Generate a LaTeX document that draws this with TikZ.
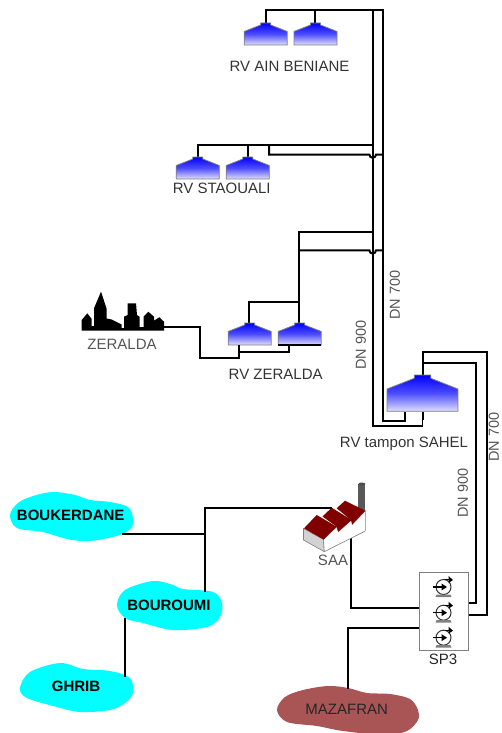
\documentclass[tikz,border=0pt]{standalone}
\usepackage{fontspec}
\setmainfont{Liberation Sans}
\usetikzlibrary{arrows.meta}
\definecolor{txt}{HTML}{333333}
\definecolor{lighttxt}{HTML}{555555}
\definecolor{lake}{HTML}{00FFFF}
\definecolor{mud}{HTML}{AA5555}
\definecolor{roofred}{HTML}{800000}
\tikzset{
  pipe/.style={draw=black,line width=2pt,line join=miter},
  thinpipe/.style={draw=black,line width=1.7pt,line join=miter},
  lbl/.style={inner sep=0pt,text=txt,font=\fontsize{15}{15}\selectfont},
  greylbl/.style={lbl,text=lighttxt},
  dn/.style={lbl,rotate=90,text=lighttxt,font=\fontsize{14.5}{15}\selectfont},
  blob/.style={inner sep=0pt,text=black,font=\bfseries\fontsize{15}{15}\selectfont},
  tankbody/.pic={
    \shade[top color=blue,bottom color=blue!12!white,middle color=blue!70!white,draw=gray,line width=.8pt]
      (-21.5,22) -- (-21.5,8.5) -- (-5,2) -- (-5,0) -- (5,0) -- (5,2) -- (21.5,8.5) -- (21.5,22) -- cycle;
  },
  pump/.pic={
    \draw[line width=1pt,draw=black!80] (0,0) circle (7.5);
    \draw[line width=1.1pt,draw=black] (-11,0) -- (0,0);
    \fill[black] (-2,-3.5) -- (3.5,0) -- (-2,3.5) -- cycle;
    \draw[line width=1.1pt,draw=black] (1,-7.5) -- (6,-7.5);
    \fill[black] (5,-11) -- (9.5,-7) -- (5,-4) -- cycle;
    \fill[gray] (-7,7.5) -- (7,7.5) -- (8,10) -- (-8,10) -- cycle;
  },
}
\begin{document}
\begin{tikzpicture}[x=1pt,y=-1pt]
\useasboundingbox (0,0) rectangle (501,733);
% blobs
\fill[lake] plot[smooth cycle,tension=.55] coordinates {(10,515)(18,503)(33,496)(53,492)(75,495)(90,500)(110,502)(128,507)(133,518)(132,527)(120,535)(90,541)(67,539)(43,532)(17,528)};
\fill[lake] plot[smooth cycle,tension=.55] coordinates {(117,605)(125,590)(153,581)(173,585)(183,589)(213,592)(222,603)(220,617)(207,627)(173,630)(143,623)(125,618)};
\fill[lake] plot[smooth cycle,tension=.55] coordinates {(20,688)(30,672)(60,663)(83,669)(110,671)(130,678)(133,693)(125,703)(110,710)(80,712)(57,707)(27,698)};
\fill[mud] plot[smooth cycle,tension=.55] coordinates {(277,710)(285,697)(303,690)(328,686)(348,688)(367,693)(390,694)(410,699)(418,710)(418,720)(407,731)(385,735)(343,731)(317,726)(287,722)};
\node[blob] (bouk) at (70.7,515) {BOUKERDANE};
\node[blob] (bour) at (169,605) {BOUROUMI};
\node[blob] (ghrib) at (76,686) {GHRIB};
\node[lbl,text=black!85] (maza) at (346.7,709) {MAZAFRAN};
% junctions
\coordinate (a1) at (265.7,23); \coordinate (a2) at (315,23);
\coordinate (s1) at (197.7,157); \coordinate (s2) at (247.7,157);
\coordinate (z1) at (249.3,323); \coordinate (z2) at (299.3,323);
\coordinate (sh) at (422.5,375);
\coordinate (shA) at (405,412); \coordinate (shB) at (422.5,412);
\coordinate (sp1) at (468.5,602.7); \coordinate (sp2) at (468.5,615);
\coordinate (sp3) at (419.3,607.7); \coordinate (sp4) at (419.3,628.3);
\coordinate (cityE) at (164,327.3);
\coordinate (z1b) at (239,345); \coordinate (z2b) at (289,345);
\coordinate (saaT) at (331.7,508.3); \coordinate (saaB) at (351,538);
\coordinate (boukE) at (122,534); \coordinate (bourN) at (205,592);
\coordinate (bourS) at (125,618); \coordinate (ghribN) at (125,677);
\coordinate (mazaN) at (347.7,688.5);
% pipes
\draw[thinpipe] (372.7,10) -- (372.7,426) -| (shB);
\draw[pipe] (a1) |- (383.3,10) -- (383.3,421.3) -| (shA);
\draw[pipe] (a2) -- (315,10);
\draw[pipe] (s1) |- (372.7,145);
\draw[pipe] (s2) -- (247.7,145);
\draw[pipe] (269,145) |- (369.4,154.5) arc[start angle=180,end angle=0,radius=3.3] -- (383.3,154.5);
\draw[pipe] (z2) -- (299.3,232.3) -- (372.7,232.3);
\draw[pipe] (299.3,250.3) -- (369.4,250.3) arc[start angle=180,end angle=0,radius=3.3] -- (383.3,250.3);
\draw[thinpipe] (z1) |- (299.3,302.3);
\draw[pipe] (sh) |- (486.7,352) |- (sp2);
\draw[pipe] (422.5,362.7) -| (476,602.7) -- (sp1);
\draw[pipe] (cityE) -| (200,357.7) -| (z1b);
\draw[pipe] (239,352.3) -| (z2b);
\draw[thinpipe] (boukE) -- (205,534);
\draw[thinpipe] (saaT) -- (205,508.3) -- (bourN);
\draw[pipe] (bourS) -- (ghribN);
\draw[pipe] (saaB) |- (sp3);
\draw[pipe] (sp4) -| (mazaN);
% tanks
\pic at (265.7,23) {tankbody};
\pic at (315.5,23) {tankbody};
\pic at (197.8,157) {tankbody};
\pic at (247.8,157) {tankbody};
\pic at (249.7,323) {tankbody};
\pic at (299.7,323) {tankbody};
\pic[scale=1.65] at (422.5,375) {tankbody};
\draw[pipe] (278.3,345.3) -- (321,345.3);
\draw[pipe] (shA) -- (405,419);
\draw[pipe] (239,345) -- (239,352);
\draw[pipe] (shB) -- (422.5,420);
% city
\fill[black] (81.7,330.7) plot coordinates {(81.7,330.7)(81.7,320)(87.3,313.3)(91.7,319)(91.7,326)(94,326)(94,308.3)(101,291.7)(106.5,308.3)(106.5,318.5)(111.7,319.5)(121.7,324.5)(121.7,328)(124,328)(124,316.7)(127.7,315)(127.7,303.3)(136,303.3)(137,315)(139.5,316.7)(139.5,327)(143.5,327)(143.5,316.7)(148.3,311.7)(154,316.7)(154,320.7)(159.3,317.3)(164,321.7)(164,330.7)} -- cycle;
\node[greylbl] (zer) at (122,344) {ZERALDA};
% factory
\fill[gray!35,draw=gray,line width=.6pt] (303.5,528.5) -- (323.5,539.5) -- (324.3,551.7) -- (303.5,540) -- cycle;
\fill[white,draw=gray,line width=.6pt] (323.5,539.5) -- (336.7,526.7) -- (338.3,531.7) -- (351,520) -- (352.3,524.3) -- (365.3,510.7) -- (365.3,531) -- (324.3,551.7) -- cycle;
\fill[gray!70!black] (358.3,484) rectangle (365.3,510);
\fill[black!70] (361.8,484) ellipse (3.5 and 1.5);
\fill[roofred] (304,528.3) -- (316.7,515) -- (336.7,526.7) -- (323.5,539.5) -- cycle;
\fill[roofred] (322.5,516.5) -- (331.7,507.7) -- (351.7,520) -- (338.3,531.7) -- (336.7,526.7) -- cycle;
\fill[roofred] (336.7,508.3) -- (345,500.7) -- (365.3,510.7) -- (352.3,524.3) -- (351,520) -- cycle;
\node[greylbl] (saa) at (333,560) {SAA};
% SP3
\node[draw=gray,line width=.8pt,minimum width=49.4pt,minimum height=77.6pt,inner sep=0pt] (sp) at (444,611.5) {};
\pic at (443.5,587) {pump};
\pic at (443.5,612.7) {pump};
\pic at (443.5,637.7) {pump};
% labels
\node[lbl] (l1) at (289.5,66) {RV AIN BENIANE};
\node[lbl] (l2) at (221.7,188.5) {RV STAOUALI};
\node[lbl] (l3) at (275.7,374) {RV ZERALDA};
\node[lbl] (l4) at (404,444) {RV tampon SAHEL};
\node[lbl,text=black!85] (l5) at (443,659) {SP3};
\node[dn] (d1) at (361,345) {DN 900};
\node[dn] (d2) at (395,295) {DN 700};
\node[dn] (d3) at (463,493) {DN 900};
\node[dn] (d4) at (494,437) {DN 700};
\end{tikzpicture}
\end{document}
